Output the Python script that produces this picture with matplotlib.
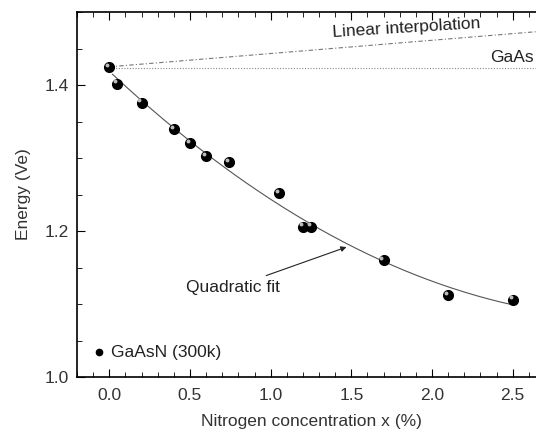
import numpy as np
import matplotlib.pyplot as plt
from matplotlib.ticker import MultipleLocator

plt.rcParams['font.family'] = ['Liberation Sans', 'DejaVu Sans']

# measured band gap of GaAsN at 300 K
x_n = [0.0, 0.05, 0.2, 0.4, 0.5, 0.6, 0.74, 1.05, 1.2, 1.25, 1.7, 2.1, 2.5]
energy = [1.425, 1.402, 1.376, 1.340, 1.320, 1.303, 1.294, 1.252, 1.206, 1.206, 1.160, 1.112, 1.106]

gaas_gap = 1.424
lin_x = [0.0, 2.7]
lin_y = [1.425, 1.474]

fig = plt.figure(figsize=(5.36, 4.34), dpi=100)
ax = fig.add_axes([0.1437, 0.1313, 0.873, 0.841])

# quadratic fit of the data
c = np.polyfit(x_n, energy, 2)
xf = np.linspace(0.02, 2.5, 200)
ax.plot(xf, np.polyval(c, xf), color='#555555', lw=0.8)

ax.plot(lin_x, lin_y, color='#777777', lw=0.8, ls=(0, (4, 2, 1, 2)))
ax.axhline(gaas_gap, xmin=0.07, color='#888888', lw=0.8, ls=(0, (1, 1.5)))

# balls with a small highlight
ax.plot(x_n, energy, 'o', color='black', ms=7, ls='none', zorder=3)
ax.plot(np.array(x_n) - 0.013, np.array(energy) + 0.003, 'o', color='#bbbbbb',
        ms=1.8, ls='none', zorder=4)

ax.plot([-0.065], [1.034], 'o', color='black', ms=4.5)
ax.text(0.01, 1.034, 'GaAsN (300k)', fontsize=12.5, va='center', color='#222222')

ax.text(1.84, 1.478, 'Linear interpolation', fontsize=12.5, rotation=3.5,
        ha='center', va='center', color='#222222')
ax.text(2.63, 1.438, 'GaAs', fontsize=12.5, ha='right', va='center', color='#222222')
ax.annotate('Quadratic fit', xy=(1.47, 1.178), xytext=(1.06, 1.123),
            fontsize=12.5, ha='right', va='center', color='#222222',
            arrowprops=dict(arrowstyle='-|>', color='#222222', lw=0.8,
                            mutation_scale=8, shrinkA=3, shrinkB=0))

ax.set_xlim(-0.2, 2.7)
ax.set_ylim(1.0, 1.5)
ax.set_xticks([0.0, 0.5, 1.0, 1.5, 2.0, 2.5])
ax.set_yticks([1.0, 1.2, 1.4])
ax.xaxis.set_minor_locator(MultipleLocator(0.1))
ax.yaxis.set_minor_locator(MultipleLocator(0.05))
ax.tick_params(which='both', direction='in', top=True, right=True,
               labelsize=12.5, labelcolor='#333333')
ax.tick_params(which='major', length=6)
ax.tick_params(which='minor', length=3.5)
ax.tick_params(axis='x', pad=8)
ax.tick_params(axis='y', pad=6)
for s in ax.spines.values():
    s.set_linewidth(1.2)

ax.set_xlabel('Nitrogen concentration x (%)', fontsize=12.5, color='#333333', labelpad=8)
ax.set_ylabel('Energy (Ve)', fontsize=12.5, color='#333333', labelpad=10)

fig.savefig('out.png', dpi=100)
